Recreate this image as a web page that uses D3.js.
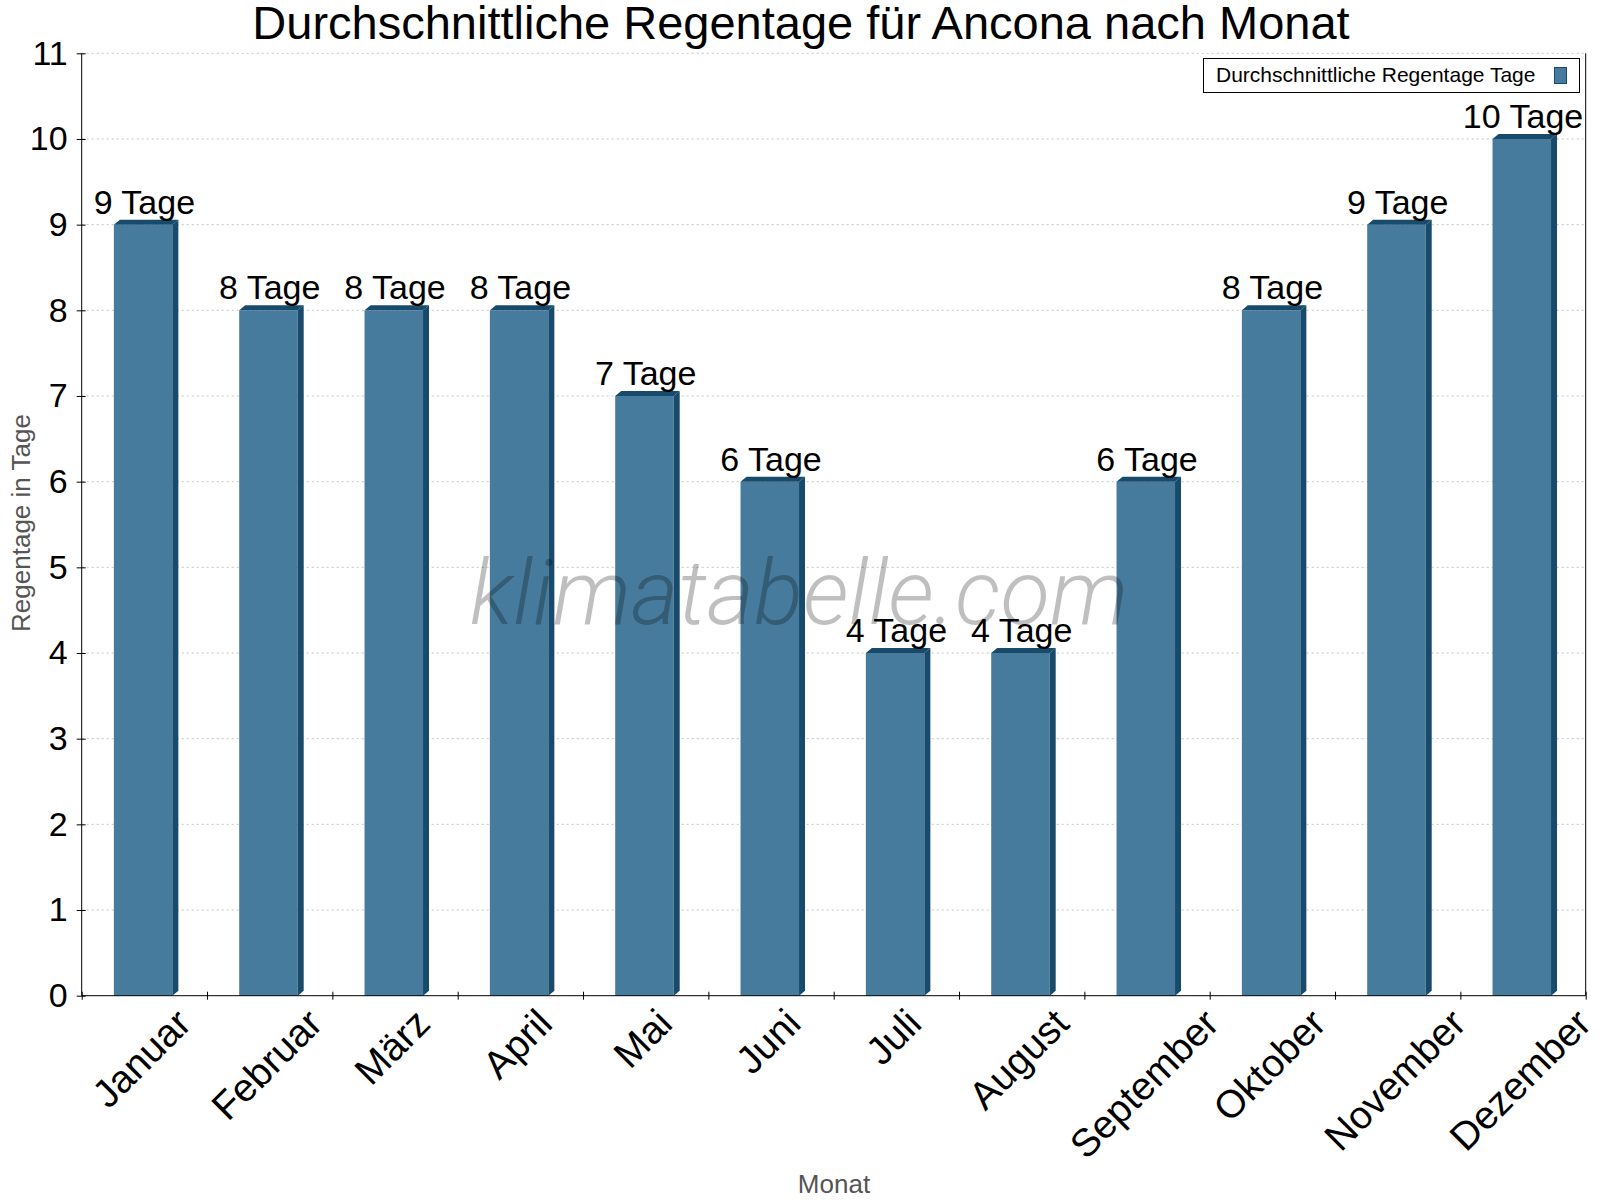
<!DOCTYPE html>
<html>
<head>
<meta charset="utf-8">
<script src="https://cdn.jsdelivr.net/npm/d3@7"></script>
<style>
  body { margin: 0; background: #fff; }
  svg { font-family: "Liberation Sans", Arial, sans-serif; }
</style>
</head>
<body>
<div id="chart"></div>
<script>
const months = ['Januar', 'Februar', 'März', 'April', 'Mai', 'Juni', 'Juli',
  'August', 'September', 'Oktober', 'November', 'Dezember'];
const rainDays = [9, 8, 8, 8, 7, 6, 4, 4, 6, 8, 9, 10];
const yTicks = d3.range(0, 12);

const colors = {front: '#467b9d', dark: '#174a6b', grid: '#c4c4c4', axisTitle: '#555'};

const width = 1600, height = 1200;
const margin = {left: 81.7, right: 14.3, top: 53.3, bottom: 204.3};
const plotW = width - margin.left - margin.right,
      plotH = height - margin.top - margin.bottom;
const depthX = 6, depthY = 5;

const svg = d3.select('#chart').append('svg')
    .attr('width', width).attr('height', height);

const x = d3.scaleBand().domain(months).range([margin.left, margin.left + plotW]);
const xb = d3.scaleLinear().domain([0, 12]).range([margin.left, margin.left + plotW]);
const y = d3.scaleLinear().domain([0, 11]).range([margin.top + plotH, margin.top]);

// title
svg.append('text')
    .attr('x', 801).attr('y', 39)
    .attr('text-anchor', 'middle')
    .attr('font-size', 47)
    .text('Durchschnittliche Regentage für Ancona nach Monat');

// grid
svg.append('g').selectAll('line').data(yTicks.slice(1))
  .enter().append('line')
    .attr('x1', margin.left).attr('x2', margin.left + plotW)
    .attr('y1', d => y(d)).attr('y2', d => y(d))
    .attr('stroke', colors.grid)
    .attr('stroke-dasharray', '2,3');

// bars
const bw = 58.5;
const bars = svg.append('g').selectAll('g').data(months)
  .enter().append('g');

const bx0 = (m) => x(m) + x.bandwidth() / 2 - 30.5;
bars.append('rect')
    .attr('x', d => bx0(d))
    .attr('y', (d, i) => y(rainDays[i]))
    .attr('width', bw)
    .attr('height', (d, i) => y(0) - y(rainDays[i]))
    .attr('fill', colors.front);
// side face
bars.append('path')
    .attr('d', (d, i) => {
      const x1 = bx0(d) + bw, yt = y(rainDays[i]), y0 = y(0);
      return `M${x1},${yt}L${x1 + depthX},${yt - depthY}L${x1 + depthX},${y0 - depthY}L${x1},${y0}Z`;
    })
    .attr('fill', colors.dark);
// top face
bars.append('path')
    .attr('d', (d, i) => {
      const x0 = bx0(d), x1 = x0 + bw, yt = y(rainDays[i]);
      return `M${x0},${yt}L${x0 + depthX},${yt - depthY}L${x1 + depthX},${yt - depthY}L${x1},${yt}Z`;
    })
    .attr('fill', colors.dark);

// watermark
svg.append('text')
    .attr('x', 799).attr('y', 624)
    .attr('text-anchor', 'middle')
    .attr('font-family', 'Roboto, sans-serif')
    .attr('font-weight', 300)
    .attr('font-style', 'italic')
    .attr('font-size', 91)
    .attr('fill', '#000')
    .attr('fill-opacity', 0.25)
    .text('klimatabelle.com');

// value labels
svg.append('g').selectAll('text').data(months)
  .enter().append('text')
    .attr('x', d => x(d) + x.bandwidth() / 2)
    .attr('y', (d, i) => y(rainDays[i]) - 11)
    .attr('text-anchor', 'middle')
    .attr('font-size', 34)
    .text((d, i) => rainDays[i] + ' Tage');

// y axis
const yAxis = svg.append('g')
    .attr('transform', `translate(${margin.left},0)`)
    .call(d3.axisLeft(y).tickValues(yTicks).tickSize(5).tickPadding(9));
yAxis.selectAll('.tick line').attr('x1', 4).attr('stroke', '#000');
yAxis.select('.domain').attr('d', `M0,${y(11)}V${y(0)}`).attr('stroke', '#000');
yAxis.selectAll('.tick text').attr('font-size', 34).attr('font-family', null).attr('fill', '#000');

// x axis (ticks at band edges)
const xAxis = svg.append('g')
    .attr('transform', `translate(0,${y(0)})`)
    .call(d3.axisBottom(xb).tickValues(d3.range(13)).tickFormat('').tickSize(4));
xAxis.selectAll('.tick line').attr('y1', -4).attr('stroke', '#000');
xAxis.select('.domain').attr('d', `M${margin.left},0H${margin.left + plotW}`).attr('stroke', '#000');

// right frame
svg.append('line')
    .attr('x1', margin.left + plotW).attr('x2', margin.left + plotW)
    .attr('y1', y(11)).attr('y2', y(0))
    .attr('stroke', '#000');

// month labels, rotated, bbox centered under band
const labels = svg.append('g').selectAll('text').data(months)
  .enter().append('text')
    .attr('text-anchor', 'middle')
    .attr('dominant-baseline', 'central')
    .attr('font-size', 39)
    .text(d => d);
labels.each(function (d) {
  const bb = this.getBBox();
  const rotH = (bb.width + bb.height) * Math.SQRT1_2;
  const cx = x(d) + x.bandwidth() / 2 - 3;
  const cy = 1001 + rotH / 2;
  d3.select(this).attr('transform', `translate(${cx},${cy}) rotate(-45)`);
});

// axis titles
svg.append('text')
    .attr('transform', `translate(30,523) rotate(-90)`)
    .attr('text-anchor', 'middle')
    .attr('font-size', 26)
    .attr('fill', colors.axisTitle)
    .text('Regentage in Tage');
svg.append('text')
    .attr('x', 834).attr('y', 1193)
    .attr('text-anchor', 'middle')
    .attr('font-size', 26)
    .attr('fill', colors.axisTitle)
    .text('Monat');

// legend
const lg = svg.append('g');
lg.append('rect')
    .attr('x', 1203.5).attr('y', 58.5).attr('width', 376).attr('height', 34)
    .attr('fill', '#fff').attr('stroke', '#000');
lg.append('text')
    .attr('x', 1216).attr('y', 82)
    .attr('font-size', 21)
    .text('Durchschnittliche Regentage Tage');
lg.append('rect')
    .attr('x', 1554.5).attr('y', 67.5).attr('width', 12).attr('height', 16)
    .attr('fill', colors.front).attr('stroke', colors.dark);
</script>
</body>
</html>
